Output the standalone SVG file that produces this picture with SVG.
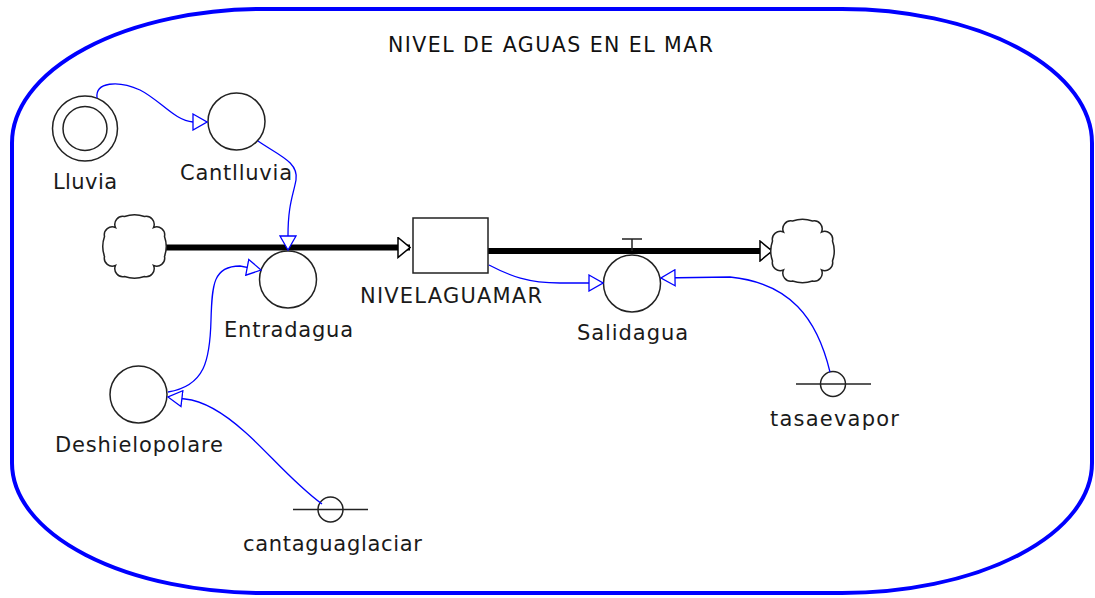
<svg xmlns="http://www.w3.org/2000/svg" width="1095" height="598" viewBox="0 0 1095 598">
<style>
.lbl{font-family:"DejaVu Sans","Verdana",sans-serif;font-size:21px;fill:#1a1a1a}
.ttl{font-family:"DejaVu Sans","Verdana",sans-serif;font-size:20.5px;fill:#111}
.nd{fill:#fff;stroke:#222;stroke-width:1.5}
.ln{fill:none;stroke:#222;stroke-width:1.5}
.flow{fill:none;stroke:#000;stroke-width:6}
.con{fill:none;stroke:#0000ff;stroke-width:1.3}
.border{fill:none;stroke:#0000ff;stroke-width:4}
</style>
<defs>
<marker id="ah" viewBox="0 0 16 18" refX="15" refY="9" markerWidth="16" markerHeight="18" markerUnits="userSpaceOnUse" orient="auto"><path d="M1,1 L15,9 L1,17 Z" fill="#fff" stroke="#0000ff" stroke-width="1.3"/></marker>
<marker id="fa" viewBox="0 0 14 22" refX="13" refY="11" markerWidth="14" markerHeight="22" markerUnits="userSpaceOnUse" orient="auto"><path d="M1,1 L13,11 L1,21 Z" fill="#fff" stroke="#000" stroke-width="1.5"/></marker>
<path id="cloud" d="M -10 -30 A 30 30 0 0 1 10 -30 A 8 8 0 0 1 19 -19 A 8 8 0 0 1 30 -10 A 30 30 0 0 1 30 10 A 8 8 0 0 1 19 19 A 8 8 0 0 1 10 30 A 30 30 0 0 1 -10 30 A 8 8 0 0 1 -19 19 A 8 8 0 0 1 -30 10 A 30 30 0 0 1 -30 -10 A 8 8 0 0 1 -19 -19 A 8 8 0 0 1 -10 -30 Z" fill="#fff" stroke="#222" stroke-width="1.5"/>
</defs>
<rect width="1095" height="598" fill="#fff"/>
<g id="sector">
<path class="border" d="M 264 9 L 842 9 A 250 134 0 0 1 1092 143 L 1092 463 A 250 130 0 0 1 842 593 L 264 593 A 252 130 0 0 1 12 463 L 12 143 A 252 134 0 0 1 264 9 Z"/>
<text class="ttl" x="388" y="52" textLength="325" lengthAdjust="spacing">NIVEL DE AGUAS EN EL MAR</text>
</g>
<g id="flows">
<path class="flow" d="M 165 247.5 L 410 247.5" marker-end="url(#fa)"/>
<path class="flow" d="M 488 251 L 772 251" marker-end="url(#fa)"/>
</g>
<g id="cloud-source"><use href="#cloud" x="134.5" y="246.5"/></g>
<g id="cloud-sink"><use href="#cloud" x="802.5" y="251"/></g>
<g id="NIVELAGUAMAR">
<rect class="nd" x="413" y="218" width="75" height="55"/>
<text class="lbl" x="360" y="303" textLength="182" lengthAdjust="spacing">NIVELAGUAMAR</text>
</g>
<g id="Lluvia">
<circle class="nd" cx="85" cy="128.5" r="32.5"/>
<circle class="ln" cx="85" cy="128.5" r="22"/>
<text class="lbl" x="53" y="189" textLength="64" lengthAdjust="spacing">Lluvia</text>
</g>
<g id="Cantlluvia">
<circle class="nd" cx="236.5" cy="121.5" r="28.5"/>
<text class="lbl" x="180" y="180" textLength="112" lengthAdjust="spacing">Cantlluvia</text>
</g>
<g id="Entradagua">
<circle class="nd" cx="288" cy="279.5" r="28.5"/>
<text class="lbl" x="224" y="337" textLength="129" lengthAdjust="spacing">Entradagua</text>
</g>
<g id="Salidagua">
<path class="ln" d="M 632 239 L 632 251 M 622 239 L 642 239"/>
<circle class="nd" cx="632" cy="283.5" r="28.5"/>
<text class="lbl" x="577" y="340" textLength="111" lengthAdjust="spacing">Salidagua</text>
</g>
<g id="Deshielopolare">
<circle class="nd" cx="138.5" cy="394.5" r="28.5"/>
<text class="lbl" x="55" y="452" textLength="168" lengthAdjust="spacing">Deshielopolare</text>
</g>
<g id="cantaguaglaciar">
<path class="ln" d="M 293 509.5 L 368 509.5"/>
<circle class="ln" cx="330.5" cy="509.5" r="12.5"/>
<text class="lbl" x="243" y="551" textLength="179" lengthAdjust="spacing">cantaguaglaciar</text>
</g>
<g id="tasaevapor">
<path class="ln" d="M 796 384 L 871 384"/>
<circle class="ln" cx="833" cy="384" r="12.5"/>
<text class="lbl" x="770" y="426" textLength="129" lengthAdjust="spacing">tasaevapor</text>
</g>
<g id="connectors">
<path class="con" d="M 97 98 C 95 82, 118 80, 140 90 C 160 100, 175 121, 193 122 L 207 122" marker-end="url(#ah)"/>
<path class="con" d="M 258 141 C 278 155, 299 162, 296 180 C 293 196, 288 205, 288 236 L 288 250" marker-end="url(#ah)"/>
<path class="con" d="M 168 392 C 205 386, 210 360, 211 320 C 212 285, 213 266, 240 266 L 261 270" marker-end="url(#ah)"/>
<path class="con" d="M 322 504 C 292 482, 268 452, 245 432 C 225 414, 205 401, 185 399 L 168 397" marker-end="url(#ah)"/>
<path class="con" d="M 489 265 C 510 276, 528 283, 560 283 L 603 283" marker-end="url(#ah)"/>
<path class="con" d="M 830 372 C 817 318, 790 283, 730 277 L 661 278" marker-end="url(#ah)"/>
</g>
</svg>
